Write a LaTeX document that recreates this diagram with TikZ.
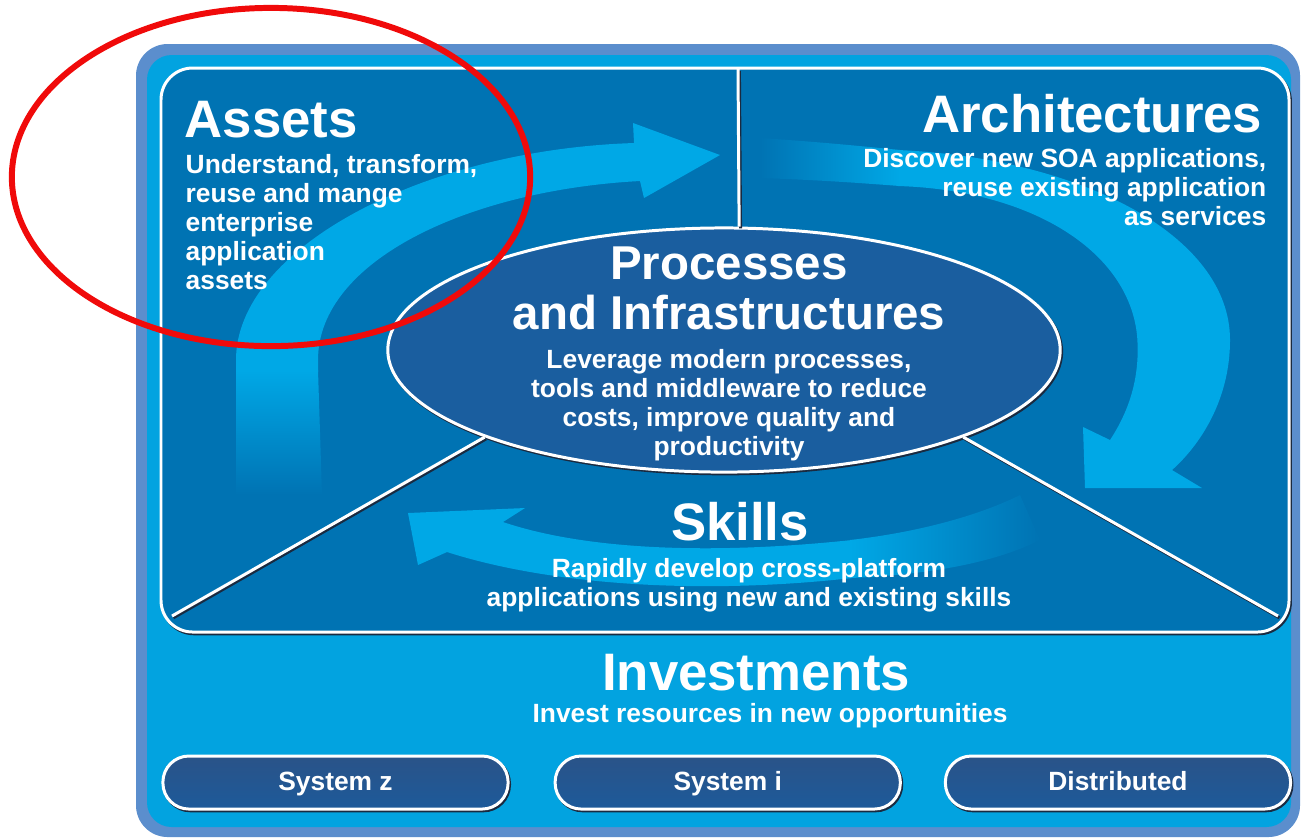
\documentclass[tikz,border=0pt]{standalone}
\usepackage{fontspec}
\setmainfont{Liberation Sans}
\usetikzlibrary{positioning}
\usetikzlibrary{shapes.geometric}

\definecolor{frameblue}{HTML}{5B8ECD}
\definecolor{framefill}{HTML}{02A3E0}
\definecolor{panelblue}{HTML}{0073B3}
\definecolor{coreblue}{HTML}{1A5E9F}
\definecolor{swirl}{HTML}{00A8E6}
\definecolor{btntop}{HTML}{2A5388}
\definecolor{btnmid}{HTML}{4A7DB5}
\definecolor{btnbot}{HTML}{1D5A9A}
\definecolor{rimshadow}{HTML}{1A2A40}
\definecolor{markred}{HTML}{F00A0A}

\tikzset{
  rim/.style={draw=white, line width=0.85pt,
    preaction={draw=rimshadow, line width=0.85pt,
      transform canvas={shift={(0.4pt,-0.5pt)}}}},
  headline/.style={text=white, inner sep=0pt,
    font=\bfseries\fontsize{15}{16}\selectfont},
  desc/.style={text=white, inner sep=0pt,
    font=\bfseries\fontsize{7.5}{8.25}\selectfont},
  system/.style={rectangle, rounded corners=7.4pt, rim, minimum width=3.45cm,
    minimum height=0.53cm, outer sep=0pt, top color=btntop, middle color=btnmid,
    bottom color=btnbot, text=white, text height=5.4pt, text depth=1.1pt,
    font=\bfseries\fontsize{7.5}{8.25}\selectfont},
}

\begin{document}
\begin{tikzpicture}[x=0.01cm, y=-0.01cm]
    \useasboundingbox (0,0) rectangle (1301,838);

    % Frame and panel
    \fill[frameblue, rounded corners=9pt] (136,44) rectangle (1300,837);
    \fill[framefill, rounded corners=7pt] (147,55) rectangle (1291,827);
    \draw[rim, fill=panelblue, rounded corners=9pt] (161,68) rectangle (1289,632);

    % Swirl arrows
    \fill[swirl] (236,372) -- (236,360) .. controls (236,250) and (420,150) .. (634,143)
        -- (633,123) -- (720,155) -- (644,198) -- (640,181)
        .. controls (470,190) and (318,260) .. (318,360) -- (318,372) -- cycle;
    \shade[top color=swirl, bottom color=panelblue]
        (236,370) -- (236,495) -- (322,495) -- (318,370) -- cycle;

    \fill[swirl] (898,150) .. controls (1080,158) and (1230,235) .. (1230,340)
        .. controls (1230,400) and (1200,445) .. (1172,470)
        -- (1202,488) -- (1085,488) -- (1083,427) -- (1110,440)
        .. controls (1133,405) and (1140,370) .. (1137,335)
        .. controls (1128,250) and (1030,190) .. (898,186) -- cycle;
    \shade[left color=panelblue, right color=swirl]
        (760,138) .. controls (820,142) and (860,146) .. (900,150)
        -- (900,186) .. controls (860,183) and (820,180) .. (760,178) -- cycle;

    \fill[swirl] (503,522) -- (525,508) -- (408,513) -- (418,565) -- (447,552)
        .. controls (550,585) and (700,595) .. (852,578) -- (852,540)
        .. controls (700,556) and (580,548) .. (503,522) -- cycle;
    \shade[left color=swirl, right color=panelblue]
        (850,540) .. controls (920,532) and (980,515) .. (1020,495)
        -- (1040,540) .. controls (990,565) and (920,575) .. (850,578) -- cycle;

    % Core ellipse
    \node[ellipse, rim, fill=coreblue, minimum width=6.72cm, minimum height=2.44cm,
        inner sep=0pt] (core) at (724,350) {};

    % Dividers
    \coordinate (paneltop) at (738,69);
    \coordinate (lcorner) at (172,616);
    \coordinate (rcorner) at (1278,616);
    \draw[rim] (paneltop) -- (core.83.5);
    \draw[rim] (core.200.5) -- (lcorner);
    \draw[rim] (core.-20) -- (rcorner);

    % Texts
    \node[headline, anchor=base west] (assets) at (184,137) {Assets};
    \node[desc, anchor=north west, align=left] (assetsdesc) at (185,154)
        {Understand, transform,\\reuse and mange\\enterprise\\application\\assets};
    \node[headline, anchor=base east] (archs) at (1263,132) {Architectures};
    \node[desc, anchor=north east, align=right] (archsdesc) at (1267,148)
        {Discover new SOA applications,\\reuse existing application\\as services};
    \node[headline, font=\bfseries\fontsize{13.5}{14.2}\selectfont, anchor=north,
        align=center] (coretitle) at (729,246) {Processes\\and Infrastructures};
    \node[desc, anchor=north, align=center] (coredesc) at (729,349)
        {Leverage modern processes,\\tools and middleware to reduce\\costs, improve quality and\\productivity};
    \node[headline, anchor=base] (skills) at (740,540) {Skills};
    \node[desc, anchor=north, align=center] (skillsdesc) at (749,558)
        {Rapidly develop cross-platform\\applications using new and existing skills};
    \node[headline, anchor=base] (invest) at (756,690) {Investments};
    \node[desc, anchor=base] (investdesc) at (770,722) {Invest resources in new opportunities};

    % Systems
    \node[system] (sysz) at (335.5,782.5) {System z};
    \node[system, right=0.47cm of sysz] (sysi) {System i};
    \node[system, right=0.45cm of sysi] (distr) {Distributed};

    % Marker
    \draw[markred, line width=1.7pt] (271,177) ellipse [x radius=2.59cm, y radius=1.69cm];
\end{tikzpicture}
\end{document}
